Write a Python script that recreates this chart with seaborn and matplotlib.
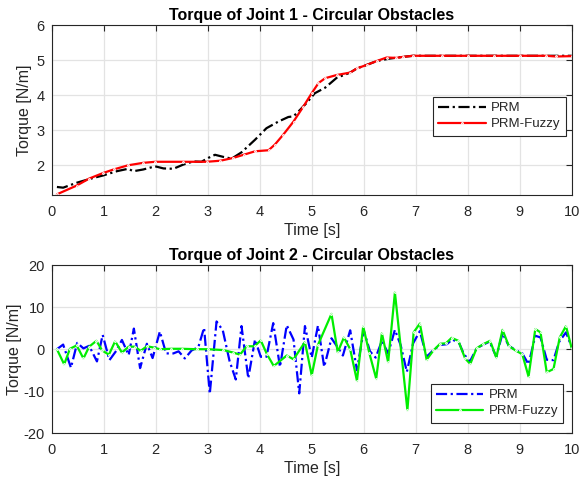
import matplotlib
matplotlib.use("Agg")
import matplotlib.pyplot as plt
import seaborn as sns

# ------------------------------------------------------------------
# Data (time [s], torque [N/m])
# ------------------------------------------------------------------

# Joint 1
j1_prm_t = [0.10, 0.22, 0.48, 0.73, 0.99, 1.25, 1.47, 1.57, 1.76, 1.99, 2.15, 2.34,
            2.53, 2.72, 2.88, 3.01, 3.14, 3.30, 3.46, 3.65, 3.91, 4.13, 4.36, 4.55,
            4.65, 4.78, 4.90, 5.06, 5.26, 5.48, 5.74, 5.87, 6.06, 6.25, 6.50, 6.76,
            6.95, 7.50, 8.00, 8.50, 9.00, 9.50, 10.0]
j1_prm_v = [1.38, 1.36, 1.50, 1.61, 1.71, 1.83, 1.90, 1.83, 1.88, 1.97, 1.91, 1.90,
            2.02, 2.11, 2.10, 2.21, 2.30, 2.24, 2.19, 2.37, 2.73, 3.06, 3.25, 3.38,
            3.40, 3.59, 3.78, 4.06, 4.22, 4.50, 4.65, 4.77, 4.87, 4.98, 5.05, 5.10,
            5.13, 5.13, 5.13, 5.13, 5.13, 5.13, 5.13]

j1_fuzzy_t = [0.10, 0.48, 0.72, 0.99, 1.19, 1.47, 1.76, 1.99, 2.53, 2.98, 3.24, 3.49,
              3.69, 3.91, 4.17, 4.29, 4.45, 4.65, 4.84, 5.00, 5.13, 5.26, 5.48, 5.74,
              5.87, 6.06, 6.25, 6.44, 6.63, 6.76, 6.95, 7.50, 8.00, 8.50, 9.00, 9.50,
              9.70, 10.0]
j1_fuzzy_v = [1.17, 1.42, 1.62, 1.78, 1.88, 2.00, 2.07, 2.10, 2.10, 2.10, 2.13, 2.21,
              2.30, 2.40, 2.43, 2.59, 2.87, 3.25, 3.68, 4.06, 4.35, 4.49, 4.58, 4.65,
              4.77, 4.87, 4.98, 5.08, 5.07, 5.10, 5.13, 5.13, 5.13, 5.13, 5.13, 5.13,
              5.11, 5.12]

# Joint 2
j2_prm_t = [0.10, 0.22, 0.37, 0.49, 0.61, 0.72, 0.87, 0.98, 1.11, 1.24, 1.35, 1.48,
            1.58, 1.70, 1.83, 1.94, 2.08, 2.20, 2.34, 2.44, 2.56, 2.69, 2.82, 2.93,
            3.04, 3.17, 3.29, 3.42, 3.54, 3.65, 3.78, 3.91, 4.02, 4.13, 4.26, 4.39,
            4.52, 4.65, 4.76, 4.87, 5.00, 5.12, 5.24, 5.38, 5.48, 5.60, 5.74, 5.87,
            6.00, 6.12, 6.23, 6.35, 6.47, 6.60, 6.71, 6.83, 6.95, 7.08, 7.21, 7.34,
            7.47, 7.60, 7.70, 7.83, 7.92, 8.04, 8.17, 8.30, 8.42, 8.55, 8.67, 8.79,
            8.92, 9.05, 9.17, 9.30, 9.40, 9.52, 9.65, 9.76, 9.89, 10.0]
j2_prm_v = [0.0, 1.1, -4.4, 1.5, 0.2, 0.8, -2.9, 3.4, -2.6, -0.4, 2.2, -1.4,
            4.9, -4.5, 1.3, -2.1, 4.2, -1.0, -1.0, -0.5, -2.2, -0.3, 0.5, 5.1,
            -10.6, 6.6, 4.5, -2.8, -7.2, 5.5, -6.9, 2.3, -1.8, -1.8, 6.2, -4.2,
            5.7, 2.3, -10.5, 5.5, -2.0, 5.6, -4.2, 2.6, 0.8, -1.5, 4.5, -5.0,
            4.5, -0.5, -2.0, 2.0, -1.0, 4.6, 1.0, -5.4, 1.4, 4.3, -1.8, -0.2,
            1.0, 1.2, 2.3, 1.6, -1.0, -3.0, 0.2, 1.1, 1.8, -1.8, 3.8, 0.8,
            -0.2, -1.0, -3.6, 3.2, 2.8, -2.5, -2.6, 1.8, 4.0, 0.5]

j2_fuzzy_t = [0.10, 0.24, 0.35, 0.48, 0.61, 0.72, 0.86, 0.97, 1.10, 1.22, 1.35, 1.48,
              1.60, 1.71, 1.83, 1.96, 2.08, 2.30, 2.50, 2.80, 3.00, 3.30, 3.49, 3.62,
              3.75, 3.90, 4.02, 4.14, 4.27, 4.52, 4.65, 4.87, 5.00, 5.12, 5.38, 5.50,
              5.62, 5.74, 5.87, 5.99, 6.11, 6.24, 6.35, 6.47, 6.60, 6.84, 6.96, 7.08,
              7.21, 7.34, 7.47, 7.58, 7.69, 7.82, 7.95, 8.05, 8.17, 8.30, 8.43, 8.55,
              8.67, 8.79, 8.92, 9.05, 9.17, 9.30, 9.40, 9.52, 9.65, 9.77, 9.89, 10.0]
j2_fuzzy_v = [0.0, -3.6, 0.1, 0.9, -2.2, 0.6, 2.0, -0.3, -1.3, 1.9, -0.8, 0.6,
              0.6, -0.4, 0.7, 0.4, 0.0, 0.1, 0.1, 0.0, 0.0, -0.2, -0.8, -1.3,
              0.7, 0.7, 2.1, -1.2, -4.0, -1.5, -2.4, 1.7, -6.2, 1.0, 8.4, -0.7,
              2.8, 0.0, -7.5, 5.4, -1.0, -7.0, 3.8, -3.1, 13.5, -14.5, 4.0, 6.1,
              -2.5, -0.3, 1.3, 1.4, 2.7, 2.0, -2.2, -3.5, 0.2, 1.2, 2.0, -2.0,
              4.6, 0.8, -0.3, -1.2, -6.5, 4.8, 4.0, -5.5, -4.7, 2.8, 5.5, 0.2]

X_TICKS = list(range(0, 11))
J1_Y_TICKS = [2, 3, 4, 5, 6]
J2_Y_TICKS = [-20, -10, 0, 10, 20]

# ------------------------------------------------------------------
# Style
# ------------------------------------------------------------------

sns.set_style("white")
plt.rcParams["font.family"] = ["Liberation Sans", "DejaVu Sans"]
plt.rcParams["axes.linewidth"] = 0.8
plt.rcParams["axes.unicode_minus"] = False

AX_COLOR = "#262626"
GRID_COLOR = "#e3e3e3"
DASHDOT = (0, (5.0, 1.6, 1.0, 1.6))


def style_axes(ax, yticks, ylim, ylabel_x):
    ax.set_xlim(0, 10)
    ax.set_ylim(*ylim)
    ax.set_xticks(X_TICKS)
    ax.set_yticks(yticks)
    ax.grid(True, color=GRID_COLOR, linewidth=0.9)
    ax.set_axisbelow(True)
    for s in ax.spines.values():
        s.set_visible(True)
        s.set_color(AX_COLOR)
        s.set_linewidth(0.8)
    ax.tick_params(direction="in", length=4, width=0.8, top=True, right=True,
                   labelsize=10.5, colors=AX_COLOR)
    ax.tick_params(axis="x", pad=7)
    ax.tick_params(axis="y", pad=5)
    ax.set_xlabel("Time [s]", fontsize=11.5, color=AX_COLOR, labelpad=3)
    ax.set_ylabel("Torque [N/m]", fontsize=11.5, color=AX_COLOR)
    ax.yaxis.set_label_coords(ylabel_x, 0.5)


def style_legend(leg):
    frame = leg.get_frame()
    frame.set_edgecolor(AX_COLOR)
    frame.set_linewidth(0.8)
    frame.set_boxstyle("square", pad=0)
    for txt in leg.get_texts():
        txt.set_color(AX_COLOR)


fig = plt.figure(figsize=(5.81, 4.82), dpi=100)
fig.patch.set_facecolor("white")
ax1 = fig.add_axes([0.089, 0.5954, 0.895, 0.352])
ax2 = fig.add_axes([0.089, 0.101, 0.895, 0.349])

# ------------------------------------------------------------------
# Joint 1
# ------------------------------------------------------------------

sns.lineplot(x=j1_prm_t, y=j1_prm_v, ax=ax1, color="black", linewidth=1.6,
             linestyle=DASHDOT, sort=False, label="PRM")
sns.lineplot(x=j1_fuzzy_t, y=j1_fuzzy_v, ax=ax1, color="#ff0000", linewidth=1.6,
             marker=".", markersize=2.5, sort=False, label="PRM-Fuzzy")
style_axes(ax1, J1_Y_TICKS, (1.15, 6), -0.037)
ax1.set_title("Torque of Joint 1 - Circular Obstacles", fontsize=11.5,
              fontweight="bold", color="black", pad=4)
leg1 = ax1.legend(loc="upper right", bbox_to_anchor=(0.989, 0.579), borderaxespad=0,
                  fontsize=9.5, frameon=True, framealpha=1, fancybox=False,
                  handlelength=3.6, borderpad=0.4, labelspacing=0.3, handletextpad=0.4)
style_legend(leg1)

# ------------------------------------------------------------------
# Joint 2
# ------------------------------------------------------------------

sns.lineplot(x=j2_prm_t, y=j2_prm_v, ax=ax2, color="#0000ff", linewidth=1.6,
             linestyle=DASHDOT, sort=False, label="PRM")
sns.lineplot(x=j2_fuzzy_t, y=j2_fuzzy_v, ax=ax2, color="#00ee00", linewidth=1.6,
             marker=".", markersize=2.5, sort=False, label="PRM-Fuzzy")
style_axes(ax2, J2_Y_TICKS, (-20, 20), -0.058)
ax2.set_title("Torque of Joint 2 - Circular Obstacles", fontsize=11.5,
              fontweight="bold", color="black", pad=4)
leg2 = ax2.legend(loc="lower right", bbox_to_anchor=(0.984, 0.063), borderaxespad=0,
                  fontsize=9.5, frameon=True, framealpha=1, fancybox=False,
                  handlelength=3.6, borderpad=0.4, labelspacing=0.3, handletextpad=0.4)
style_legend(leg2)

fig.savefig("out.png", dpi=100, facecolor=fig.get_facecolor())
